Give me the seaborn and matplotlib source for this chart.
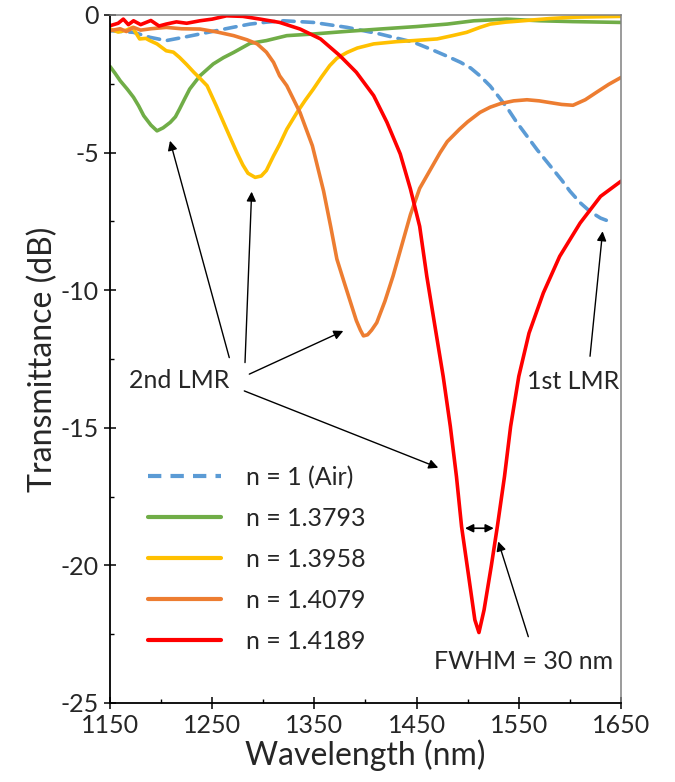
import matplotlib
matplotlib.use("Agg")
import matplotlib.pyplot as plt
import seaborn as sns
import pandas as pd
from matplotlib.lines import Line2D

# ---------------- data ----------------
air_x = [1150, 1173, 1189, 1205, 1222, 1238, 1254, 1270, 1287, 1303, 1320, 1349, 1382, 1414,
         1447, 1465, 1480, 1493, 1503, 1512, 1522, 1532, 1540, 1548, 1558, 1568, 1580, 1592,
         1600, 1610, 1620, 1630, 1642]
air_y = [-0.57, -0.63, -0.81, -0.93, -0.81, -0.69, -0.57, -0.45, -0.33, -0.26, -0.21, -0.27, -0.45, -0.69,
         -0.99, -1.26, -1.50, -1.72, -1.93, -2.21, -2.58, -3.05, -3.45, -3.90, -4.40, -4.90, -5.45, -6.00,
         -6.40, -6.82, -7.15, -7.38, -7.55]

n13793_x = [1150, 1155, 1160, 1167, 1173, 1178, 1183, 1190, 1196, 1202, 1209, 1214, 1218, 1223,
            1228, 1238, 1251, 1261, 1271, 1287, 1303, 1323, 1349, 1380, 1414, 1450, 1480,
            1506, 1538, 1571, 1603, 1650]
n13793_y = [-1.87, -2.12, -2.39, -2.70, -2.99, -3.30, -3.66, -4.00, -4.21, -4.10, -3.90, -3.70, -3.42, -3.05,
            -2.69, -2.21, -1.78, -1.55, -1.36, -1.03, -0.93, -0.75, -0.69, -0.60, -0.51, -0.42, -0.33,
            -0.21, -0.15, -0.21, -0.24, -0.27]

n13958_x = [1150, 1158, 1166, 1172, 1179, 1185, 1189, 1196, 1205, 1212, 1218, 1225, 1232,
            1238, 1245, 1254, 1264, 1274, 1280, 1285, 1292, 1298, 1303, 1310, 1316, 1323,
            1333, 1341, 1349, 1357, 1365, 1372, 1382, 1392, 1408, 1430, 1447, 1470, 1485,
            1499, 1512, 1522, 1537, 1554, 1580, 1603, 1650]
n13958_y = [-0.51, -0.62, -0.55, -0.45, -0.87, -0.85, -0.93, -1.05, -1.30, -1.35, -1.54, -1.80, -2.08,
            -2.30, -2.57, -3.30, -4.15, -4.99, -5.45, -5.75, -5.90, -5.85, -5.65, -5.12, -4.70, -4.15,
            -3.54, -3.10, -2.69, -2.25, -1.84, -1.57, -1.36, -1.20, -1.05, -0.97, -0.93, -0.87, -0.75,
            -0.63, -0.45, -0.33, -0.26, -0.21, -0.13, -0.08, -0.05]

n14079_x = [1150, 1160, 1166, 1173, 1180, 1190, 1205, 1220, 1238, 1255, 1271, 1284, 1294,
            1303, 1310, 1316, 1323, 1336, 1348, 1359, 1366, 1372, 1379, 1385, 1391, 1395,
            1398, 1402, 1406, 1411, 1419, 1427, 1436, 1444, 1453, 1463, 1473, 1480, 1492,
            1500, 1512, 1522, 1532, 1545, 1558, 1570, 1580, 1592, 1603, 1615, 1626, 1638,
            1650]
n14079_y = [-0.57, -0.50, -0.60, -0.45, -0.55, -0.50, -0.45, -0.50, -0.51, -0.62, -0.75, -0.90, -1.05,
            -1.35, -1.72, -2.21, -2.57, -3.55, -4.75, -6.40, -7.70, -8.87, -9.70, -10.40, -11.10, -11.45,
            -11.66, -11.62, -11.45, -11.18, -10.40, -9.48, -8.30, -7.25, -6.30, -5.65, -5.00, -4.60, -4.15,
            -3.88, -3.54, -3.35, -3.22, -3.12, -3.08, -3.12, -3.18, -3.25, -3.28, -3.08, -2.81, -2.52,
            -2.27]

n14189_x = [1150, 1158, 1163, 1168, 1173, 1180, 1190, 1198, 1205, 1215, 1225, 1238, 1250,
            1264, 1280, 1297, 1316, 1336, 1356, 1375, 1391, 1408, 1421, 1434, 1444, 1453,
            1460, 1468, 1476, 1483, 1489, 1494, 1501, 1507, 1511, 1516, 1523, 1529, 1536,
            1542, 1550, 1560, 1574, 1590, 1610, 1630, 1650]
n14189_y = [-0.39, -0.30, -0.15, -0.35, -0.21, -0.35, -0.20, -0.40, -0.33, -0.25, -0.30, -0.21, -0.15,
            -0.03, -0.05, -0.15, -0.27, -0.51, -0.87, -1.48, -2.08, -2.93, -3.90, -5.05, -6.33, -7.68,
            -9.50, -11.32, -13.13, -14.95, -16.77, -18.59, -20.41, -21.98, -22.44, -21.62, -20.04, -18.59, -16.77,
            -14.95, -13.13, -11.56, -10.10, -8.77, -7.56, -6.59, -6.04]

labels = ["n = 1 (Air)", "n = 1.3793", "n = 1.3958", "n = 1.4079", "n = 1.4189"]
colors = ["#5B9BD5", "#70AD47", "#FFC000", "#ED7D31", "#FF0000"]

x_ticks = [1150, 1250, 1350, 1450, 1550, 1650]
y_ticks = [0, -5, -10, -15, -20, -25]

# ---------------- build long table ----------------
series = [(air_x, air_y), (n13793_x, n13793_y), (n13958_x, n13958_y),
          (n14079_x, n14079_y), (n14189_x, n14189_y)]
frames = []
for lab, (xs, ys) in zip(labels, series):
    frames.append(pd.DataFrame({"Wavelength": xs, "T": ys, "series": lab}))
df = pd.concat(frames, ignore_index=True)

sns.set_style("ticks")
plt.rcParams["font.family"] = ["Lato", "DejaVu Sans"]
plt.rcParams["axes.unicode_minus"] = False

fig = plt.figure(figsize=(6.75, 7.82), dpi=100)
ax = fig.add_axes([110 / 675, 1 - 703 / 782, 511 / 675, 688 / 782])

palette = dict(zip(labels, colors))
dashes = {lab: "" for lab in labels}
dashes[labels[0]] = (3.2, 2.2)
sns.lineplot(data=df, x="Wavelength", y="T", hue="series", style="series",
             palette=palette, dashes=dashes, hue_order=labels, style_order=labels,
             linewidth=2.6, ax=ax, legend=False, estimator=None, sort=False)
for ln in ax.get_lines():
    ln.set_solid_joinstyle("round")
    ln.set_dash_capstyle("round")

ax.set_xlim(1150, 1650)
ax.set_ylim(-25, 0)
ax.set_xticks(x_ticks)
ax.set_yticks(y_ticks)
ax.set_xticks([1200, 1300, 1400, 1500, 1600], minor=True)
ax.set_yticks([-2.5, -7.5, -12.5, -17.5, -22.5], minor=True)
ax.tick_params(which="major", direction="inout", length=8, width=1.1,
               labelsize=18, pad=4, color="black")
ax.tick_params(which="minor", direction="in", length=3, width=1.0, color="black")

for s in ["left", "bottom"]:
    ax.spines[s].set_color("black")
    ax.spines[s].set_linewidth(1.3)
for s in ["top", "right"]:
    ax.spines[s].set_visible(True)
    ax.spines[s].set_color("#808080")
    ax.spines[s].set_linewidth(1.1)

ax.set_xlabel("Wavelength (nm)", fontsize=23, labelpad=2)
ax.set_ylabel("Transmittance (dB)", fontsize=23, labelpad=2)

# legend
handles = [Line2D([0], [0], color=c, lw=3.0,
                  linestyle=((0, (3.2, 2.2)) if i == 0 else "-"))
           for i, c in enumerate(colors)]
ax.legend(handles, labels, loc="upper left", bbox_to_anchor=(0.075, 0.345),
          frameon=False, fontsize=18, handlelength=2.9, handletextpad=1.0,
          labelspacing=0.72, borderpad=0, borderaxespad=0)

# annotations
arrow_kw = dict(arrowstyle="-|>", color="black", lw=1.0, mutation_scale=14,
                shrinkA=0, shrinkB=0)
ax.text(1217.5, -13.27, "2nd LMR", fontsize=18, ha="center", va="center")
for start, tip in [((1266.7, -12.45), (1208.7, -4.57)),
                   ((1282.1, -12.63), (1288.6, -6.42)),
                   ((1286.3, -13.05), (1378.3, -11.48)),
                   ((1281.4, -13.66), (1471.2, -16.45))]:
    ax.annotate("", xy=tip, xytext=start, arrowprops=arrow_kw)

ax.text(1603, -13.3, "1st LMR", fontsize=18, ha="center", va="center")
ax.annotate("", xy=(1632, -7.86), xytext=(1619.7, -12.4), arrowprops=arrow_kw)

ax.annotate("", xy=(1497.4, -18.65), xytext=(1525.5, -18.65),
            arrowprops=dict(arrowstyle="<|-|>", color="black", lw=1.2,
                            mutation_scale=12, shrinkA=0, shrinkB=0))
ax.text(1555, -23.49, "FWHM = 30 nm", fontsize=18, ha="center", va="center")
ax.annotate("", xy=(1529.9, -19.13), xytext=(1559.3, -22.59), arrowprops=arrow_kw)

fig.savefig("out.png", dpi=100, facecolor="white")
